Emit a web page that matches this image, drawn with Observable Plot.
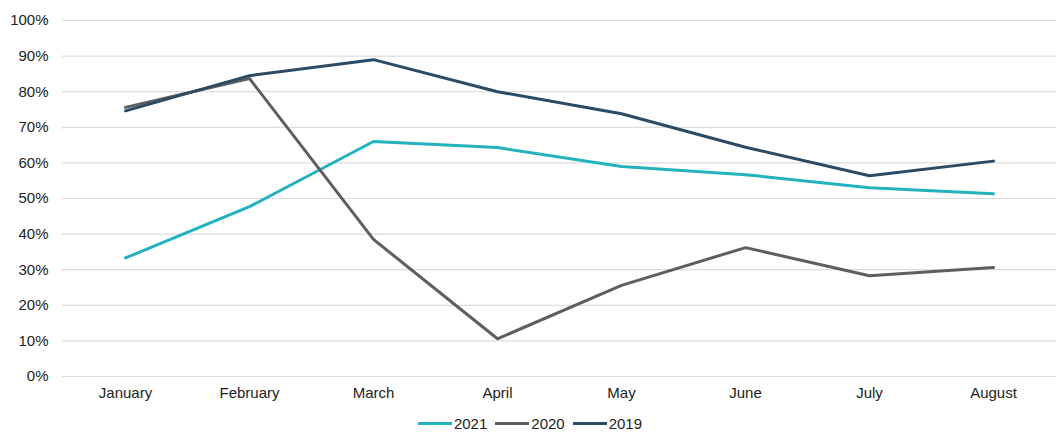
<!DOCTYPE html>
<html>
<head>
<meta charset="utf-8">
<script src="https://cdn.jsdelivr.net/npm/d3@7"></script>
<script src="https://cdn.jsdelivr.net/npm/@observablehq/plot@0.6"></script>
<style>
  body { margin: 0; background: #fff; font-family: "Liberation Sans", Arial, sans-serif; }
  #chart svg { display: block; }
  .legend { display: flex; justify-content: center; align-items: center; gap: 8px; font-size: 15px; color: #222; height: 26px; margin-left: 4px; }
  .legend .item { display: flex; align-items: center; gap: 2px; }
  .legend .sw { width: 34px; height: 3px; display: inline-block; }
</style>
</head>
<body>
<div id="chart"></div>
<div class="legend" id="legend"></div>
<script>
const months = ["January", "February", "March", "April", "May", "June", "July", "August"];
const series = ["2021", "2020", "2019"];
const colors = ["#22b2bd", "#5e5e5e", "#2b4a63"];
const values2021 = [33.3, 47.7, 66, 64.3, 59, 56.7, 53, 51.3];
const values2020 = [75.6, 83.7, 38.5, 10.6, 25.6, 36.2, 28.3, 30.6];
const values2019 = [74.6, 84.5, 89, 80, 73.8, 64.4, 56.4, 60.5];
const yTicks = [0, 10, 20, 30, 40, 50, 60, 70, 80, 90, 100];

const allValues = [values2021, values2020, values2019];
const data = [];
series.forEach((s, i) => months.forEach((m, j) => data.push({series: s, month: m, value: allValues[i][j] / 100})));

const chart = Plot.plot({
  width: 1056,
  height: 410,
  marginTop: 20,
  marginBottom: 34,
  marginLeft: 62,
  marginRight: 0,
  style: {fontFamily: "'Liberation Sans', Arial, sans-serif", fontSize: "15px", color: "#222"},
  x: {type: "point", domain: months, padding: 0.5, label: null, tickSize: 0, tickPadding: 11},
  y: {domain: [0, 1], ticks: yTicks.map(d => d / 100), tickFormat: d => Math.round(d * 100) + "%", label: null, tickSize: 0, tickPadding: 14},
  color: {domain: series, range: colors},
  marks: [
    Plot.ruleY(yTicks.map(d => d / 100), {stroke: "#dcdcdc", strokeWidth: 1.2}),
    Plot.line(data, {x: "month", y: "value", z: "series", stroke: "series", strokeWidth: 3, strokeLinejoin: "miter"})
  ]
});
document.getElementById("chart").appendChild(chart);

const legend = document.getElementById("legend");
series.forEach((s, i) => {
  const item = document.createElement("span");
  item.className = "item";
  item.innerHTML = `<span class="sw" style="background:${colors[i]}"></span><span>${s}</span>`;
  legend.appendChild(item);
});
</script>
</body>
</html>
